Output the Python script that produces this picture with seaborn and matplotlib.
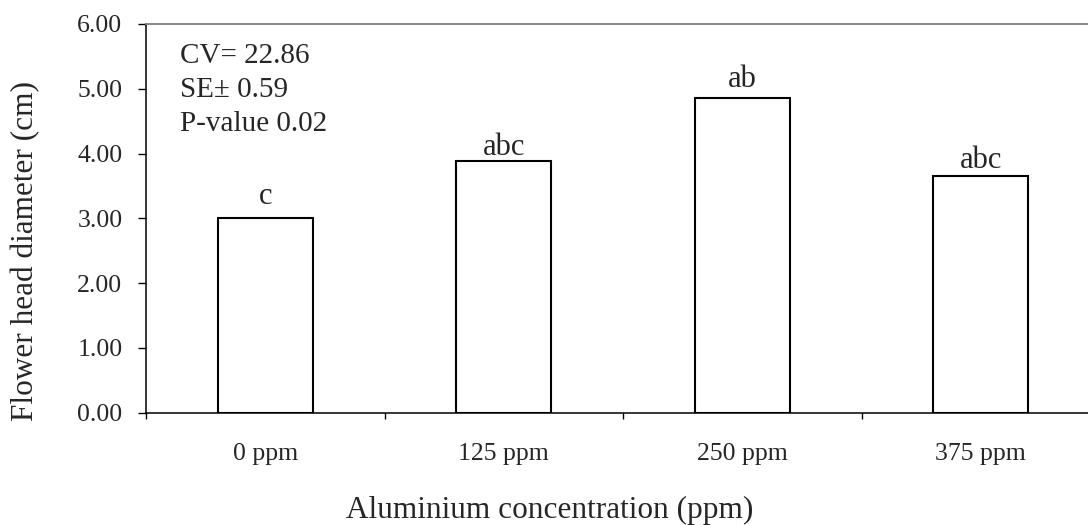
import matplotlib
matplotlib.use("Agg")
import matplotlib.pyplot as plt
import seaborn as sns
import pandas as pd

# ===================== Data =====================
concentrations = ["0 ppm", "125 ppm", "250 ppm", "375 ppm"]
diameter_cm = [3.00, 3.89, 4.85, 3.65]
letters = ["c", "abc", "ab", "abc"]
stats_lines = ["CV= 22.86", "SE\u00b1 0.59", "P-value 0.02"]

# manual nudges of the letter labels above each bar (data units)
LABEL_NUDGE = [0.22, 0.08, 0.18, 0.13]

W, H = 1088, 525

sns.set_style("white")
plt.rcParams["font.family"] = ["Liberation Serif", "DejaVu Serif"]

df = pd.DataFrame({"conc": concentrations, "diam": diameter_cm})

fig = plt.figure(figsize=(W / 100, H / 100), dpi=100)
# plot area runs past the right edge of the picture, as in the original
ax = fig.add_axes([146 / W, 112.5 / H, 954 / W, 388.5 / H])

sns.barplot(data=df, x="conc", y="diam", order=concentrations, color="white",
            edgecolor="black", linewidth=1.5, width=0.4, ax=ax)

ax.set_xlim(-0.5, 3.5)
ax.set_ylim(0, 6)
ax.set_yticks(range(7))
ax.set_yticklabels([f"{v:.2f}" for v in range(7)], fontsize=18.5)

# category labels sit on minor ticks, major ticks mark the boundaries
ax.set_xticks([-0.5, 0.5, 1.5, 2.5, 3.5])
ax.set_xticklabels([])
ax.set_xticks(range(len(concentrations)), minor=True)
ax.set_xticklabels(concentrations, minor=True, fontsize=18.5)
ax.tick_params(axis="x", which="major", bottom=True, direction="out",
               length=4.5, width=1, color="black")
ax.tick_params(axis="x", which="minor", bottom=True, length=0, pad=22)
ax.tick_params(axis="y", left=True, direction="out", length=6, width=1,
               color="black", pad=11)

for side in ["left", "bottom"]:
    ax.spines[side].set_color("black")
    ax.spines[side].set_linewidth(1.1)
ax.spines["top"].set_color("#7f7f7f")
ax.spines["top"].set_linewidth(1.3)
ax.spines["right"].set_visible(False)

ax.set_xlabel("")
ax.set_ylabel("")
fig.text(550 / W, 1 - 518 / H, "Aluminium concentration (ppm)", fontsize=22.5,
         ha="center", va="baseline")
fig.text(26 / W, 1 - 251 / H, "Flower head diameter (cm)", fontsize=22.5,
         rotation=90, ha="center", va="center")

for i, (v, lab) in enumerate(zip(diameter_cm, letters)):
    ax.text(i, v + LABEL_NUDGE[i], lab, ha="center", va="baseline", fontsize=22)

for k, line in enumerate(stats_lines):
    fig.text(180 / W, 1 - (63 + 34 * k) / H, line, ha="left", va="baseline",
             fontsize=21)

fig.savefig("out.png", dpi=100)
